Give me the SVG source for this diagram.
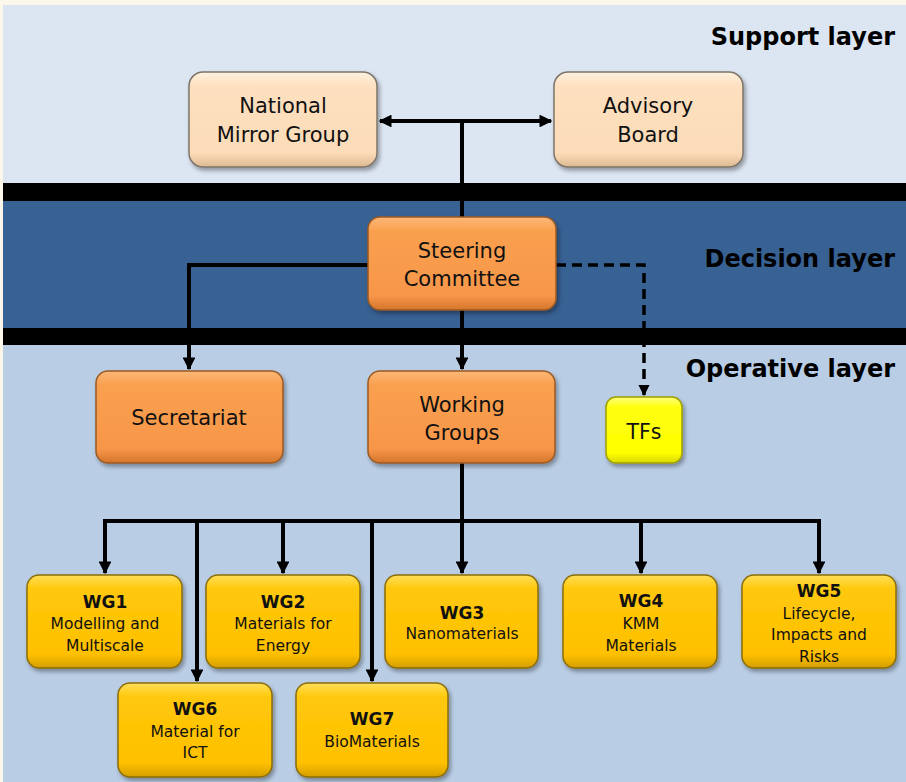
<svg xmlns="http://www.w3.org/2000/svg" width="906" height="782" viewBox="0 0 906 782">
<defs>
<style>
.bg{stroke:none}
.t{font-family:"DejaVu Sans","Liberation Sans",sans-serif;fill:#111;text-anchor:middle}
.big{font-size:21px}
.wg{font-size:15.5px}
.wgh{font-size:17px;font-weight:bold}
.layer{font-family:"DejaVu Sans","Liberation Sans",sans-serif;font-weight:bold;font-size:24px;fill:#000;text-anchor:end}
.peach{fill:url(#gPeach);stroke:#7d746a;stroke-width:1.5}
.orange{fill:url(#gOrange);stroke:#9a5a22;stroke-width:1.5}
.gold{fill:url(#gGold);stroke:#8a6d08;stroke-width:1.5}
.lemon{fill:url(#gLemon);stroke:#a0a000;stroke-width:1.5}
.ln{fill:none;stroke:#000;stroke-width:4}
.dash{fill:none;stroke:#000;stroke-width:3.5;stroke-dasharray:10 6}
</style>
<linearGradient id="gPeach" x1="0" y1="0" x2="0" y2="1">
<stop offset="0" stop-color="#fff1df"/><stop offset="0.15" stop-color="#fde0bf"/><stop offset="0.85" stop-color="#fcdcb8"/><stop offset="1" stop-color="#dcb992"/>
</linearGradient>
<linearGradient id="gOrange" x1="0" y1="0" x2="0" y2="1">
<stop offset="0" stop-color="#fcb878"/><stop offset="0.15" stop-color="#f9a04f"/><stop offset="0.85" stop-color="#f7964a"/><stop offset="1" stop-color="#d4752b"/>
</linearGradient>
<linearGradient id="gGold" x1="0" y1="0" x2="0" y2="1">
<stop offset="0" stop-color="#ffde5a"/><stop offset="0.15" stop-color="#ffc80a"/><stop offset="0.85" stop-color="#ffc000"/><stop offset="1" stop-color="#d49e00"/>
</linearGradient>
<linearGradient id="gLemon" x1="0" y1="0" x2="0" y2="1">
<stop offset="0" stop-color="#ffff80"/><stop offset="0.15" stop-color="#ffff10"/><stop offset="0.85" stop-color="#ffff00"/><stop offset="1" stop-color="#d8d800"/>
</linearGradient>
<filter id="sh" x="-10%" y="-10%" width="125%" height="130%">
<feDropShadow dx="2" dy="3" stdDeviation="2" flood-color="#000" flood-opacity="0.35"/>
</filter>
<marker id="ah" viewBox="0 0 10 10" refX="9" refY="5" markerWidth="3.2" markerHeight="3.2" orient="auto-start-reverse" markerUnits="strokeWidth">
<path d="M0,0 L10,5 L0,10 z" fill="#000"/>
</marker>
</defs>

<g id="background">
<rect class="bg" x="0" y="0" width="906" height="782" fill="#fdf6ea"/>
<rect class="bg" x="3" y="5" width="903" height="179" fill="#dce6f2"/>
<rect class="bg" x="3" y="183" width="903" height="18" fill="#000"/>
<rect class="bg" x="3" y="201" width="903" height="127" fill="#386194"/>
<rect class="bg" x="3" y="328" width="903" height="17" fill="#000"/>
<rect class="bg" x="3" y="345" width="903" height="437" fill="#b9cde5"/>
</g>

<g id="layer-labels">
<text class="layer" x="895" y="45">Support layer</text>
<text class="layer" x="895" y="267">Decision layer</text>
<text class="layer" x="895" y="377">Operative layer</text>
</g>

<g id="connectors">
<line class="ln" x1="380" y1="121" x2="551" y2="121" marker-start="url(#ah)" marker-end="url(#ah)"/>
<line class="ln" x1="462" y1="121" x2="462" y2="217"/>
<line class="ln" x1="462" y1="310" x2="462" y2="369" marker-end="url(#ah)"/>
<polyline class="ln" points="368,265 189,265 189,369" marker-end="url(#ah)"/>
<polyline class="dash" points="556,265 644,265 644,395" marker-end="url(#ah)"/>
<line class="ln" x1="462" y1="463" x2="462" y2="521"/>
<line class="ln" x1="103" y1="521" x2="821" y2="521"/>
<polyline class="ln" points="105,519 105,573" marker-end="url(#ah)"/>
<polyline class="ln" points="283,519 283,573" marker-end="url(#ah)"/>
<polyline class="ln" points="462,519 462,573" marker-end="url(#ah)"/>
<polyline class="ln" points="641,519 641,573" marker-end="url(#ah)"/>
<polyline class="ln" points="819,519 819,573" marker-end="url(#ah)"/>
<polyline class="ln" points="197,519 197,681" marker-end="url(#ah)"/>
<polyline class="ln" points="372,519 372,681" marker-end="url(#ah)"/>
</g>

<g id="national-mirror-group">
<rect class="peach" filter="url(#sh)" x="189" y="72" width="188" height="95" rx="14"/>
<text class="t big" x="283" y="113">National</text>
<text class="t big" x="283" y="142">Mirror Group</text>
</g>
<g id="advisory-board">
<rect class="peach" filter="url(#sh)" x="554" y="72" width="189" height="95" rx="14"/>
<text class="t big" x="648" y="113">Advisory</text>
<text class="t big" x="648" y="142">Board</text>
</g>
<g id="steering-committee">
<rect class="orange" filter="url(#sh)" x="368" y="217" width="188" height="93" rx="12"/>
<text class="t big" x="462" y="258">Steering</text>
<text class="t big" x="462" y="286">Committee</text>
</g>
<g id="secretariat">
<rect class="orange" filter="url(#sh)" x="96" y="371" width="187" height="92" rx="12"/>
<text class="t big" x="189" y="425">Secretariat</text>
</g>
<g id="working-groups">
<rect class="orange" filter="url(#sh)" x="368" y="371" width="187" height="92" rx="12"/>
<text class="t big" x="462" y="412">Working</text>
<text class="t big" x="462" y="440">Groups</text>
</g>
<g id="tfs">
<rect class="lemon" filter="url(#sh)" x="606" y="397" width="76" height="66" rx="10"/>
<text class="t" style="font-size:20.5px" x="644" y="439">TFs</text>
</g>

<g id="wg1">
<rect class="gold" filter="url(#sh)" x="27" y="575" width="155" height="93" rx="12"/>
<text class="t wgh" x="105" y="608">WG1</text>
<text class="t wg" x="105" y="629">Modelling and</text>
<text class="t wg" x="105" y="651">Multiscale</text>
</g>
<g id="wg2">
<rect class="gold" filter="url(#sh)" x="206" y="575" width="154" height="93" rx="12"/>
<text class="t wgh" x="283" y="608">WG2</text>
<text class="t wg" x="283" y="629">Materials for</text>
<text class="t wg" x="283" y="651">Energy</text>
</g>
<g id="wg3">
<rect class="gold" filter="url(#sh)" x="385" y="575" width="153" height="93" rx="12"/>
<text class="t wgh" x="462" y="619">WG3</text>
<text class="t wg" x="462" y="639">Nanomaterials</text>
</g>
<g id="wg4">
<rect class="gold" filter="url(#sh)" x="563" y="575" width="154" height="93" rx="12"/>
<text class="t wgh" x="641" y="607">WG4</text>
<text class="t wg" x="641" y="629">KMM</text>
<text class="t wg" x="641" y="651">Materials</text>
</g>
<g id="wg5">
<rect class="gold" filter="url(#sh)" x="742" y="575" width="154" height="93" rx="12"/>
<text class="t wgh" x="819" y="597">WG5</text>
<text class="t wg" x="819" y="619">Lifecycle,</text>
<text class="t wg" x="819" y="640">Impacts and</text>
<text class="t wg" x="819" y="662">Risks</text>
</g>
<g id="wg6">
<rect class="gold" filter="url(#sh)" x="118" y="683" width="154" height="94" rx="12"/>
<text class="t wgh" x="195" y="715">WG6</text>
<text class="t wg" x="195" y="737">Material for</text>
<text class="t wg" x="195" y="758">ICT</text>
</g>
<g id="wg7">
<rect class="gold" filter="url(#sh)" x="296" y="683" width="152" height="94" rx="12"/>
<text class="t wgh" x="372" y="725">WG7</text>
<text class="t wg" x="372" y="747">BioMaterials</text>
</g>
</svg>
